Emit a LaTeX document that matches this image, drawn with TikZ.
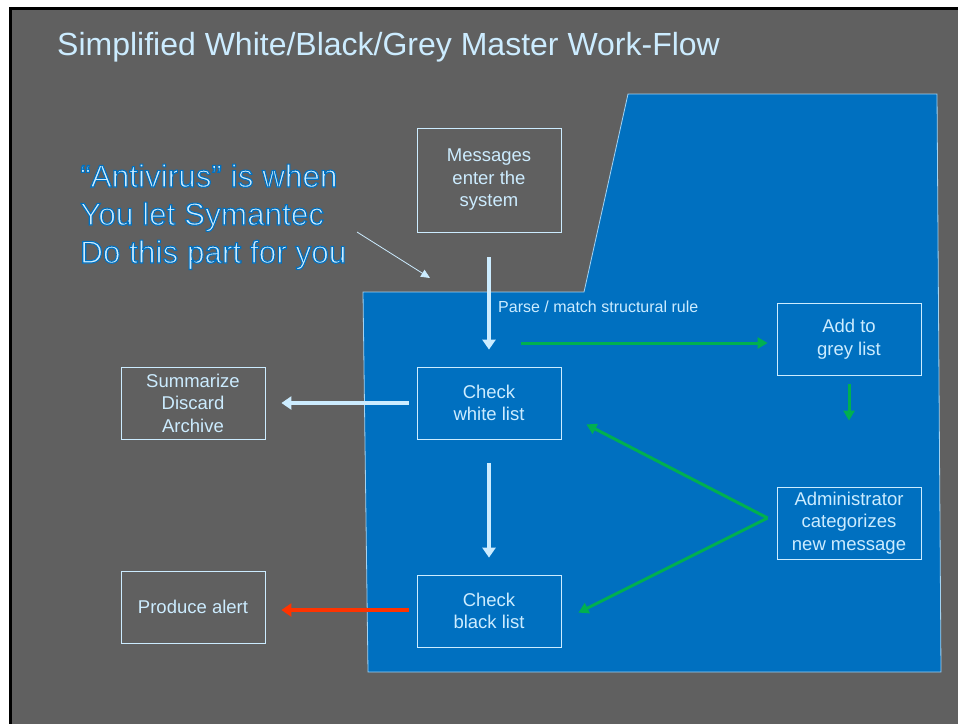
\documentclass[tikz,border=0pt]{standalone}
\usepackage{fontspec}
\setmainfont{Liberation Sans}
\usetikzlibrary{arrows.meta,calc}
\definecolor{slate}{HTML}{606060}
\definecolor{panelblue}{HTML}{0070C0}
\definecolor{paleblue}{HTML}{CCECFF}
\definecolor{okgreen}{HTML}{00B050}
\definecolor{alertred}{HTML}{FF3300}
\newcommand{\outlinedtext}[1]{\special{pdf:literal direct 0 0.439 0.753 RG 1.1 w 2 Tr}#1\special{pdf:literal direct 0 Tr}}
\tikzset{
  box/.style={draw=paleblue, line width=0.8pt, minimum width=144pt, minimum height=72pt,
    align=center, text=paleblue, font=\fontsize{18.5}{22.5}\selectfont, inner sep=2pt},
  flow/.style={draw=paleblue, line width=4pt, -{Triangle[width=13pt,length=10pt]}},
  admin/.style={draw=okgreen, line width=3pt, -{Triangle[width=11pt,length=10pt]}},
  alert/.style={draw=alertred, line width=4pt, -{Triangle[width=13pt,length=10pt]}},
  pointer/.style={draw=paleblue, line width=0.8pt, -{Triangle[width=8pt,length=9pt]}}
}
\begin{document}
\begin{tikzpicture}[x=1pt,y=-1pt]
  % page and frame
  \useasboundingbox (0,0) rectangle (958,724);
  \fill[white] (0,0) rectangle (958,724);
  \fill[black] (9,7) rectangle (958,724);
  \fill[slate] (12,10) rectangle (958,724);

  % blue panel of the automated part
  \draw[fill=panelblue, draw=paleblue!80!panelblue, line width=0.8pt]
    (363,292) -- (584,292) -- (628,94) -- (937,94) -- (941,672) -- (368,672) -- cycle;

  % title
  \node[anchor=base west, inner sep=0pt, text=paleblue, font=\fontsize{32}{38}\selectfont]
    (title) at (57,55) {Simplified White/Black/Grey Master Work-Flow};

  % side note (anchored on the baseline of its last line)
  \node[anchor=base west, inner sep=0pt, align=left, text=paleblue,
        font=\fontsize{31.5}{38}\selectfont] (note) at (80,263)
    {\outlinedtext{“Antivirus” is when}\\\outlinedtext{You let Symantec}\\\outlinedtext{Do this part for you}};

  % process boxes
  \node[box, minimum height=104pt] (msg) at (489,180) {Messages\\enter the\\system};
  \node[box] (white) at (489,403) {Check\\white list};
  \node[box] (black) at (489,611) {Check\\black list};
  \node[box] (summ) at (193,403) {Summarize\\Discard\\Archive};
  \node[box] (prod) at (193,607) {Produce alert};
  \node[box] (grey) at (849,339) {Add to\\grey list};
  \node[box] (adm) at (849,523) {Administrator\\categorizes\\new message};

  % label of the parse step
  \node[anchor=base west, inner sep=0pt, text=paleblue, font=\fontsize{16}{19}\selectfont]
    (parse) at (498,312) {Parse / match structural rule};

  % connectors
  \draw[flow, shorten <=25pt, shorten >=17pt] (msg.south) -- (white.north);
  \draw[flow, shorten <=8pt, shorten >=16pt] (white.west) -- (summ.east);
  \draw[flow, shorten <=24pt, shorten >=17pt] (white.south) -- (black.north);
  \draw[alert, shorten <=8pt, shorten >=16pt] (black.west |- 0,610) -- (prod.east |- 0,610);

  \coordinate (fork) at (521,343);
  \draw[admin, shorten >=9pt] (fork) -- (fork -| grey.west);
  \draw[admin, shorten <=9pt, shorten >=66pt] (grey.south) -- (adm.north);
  \coordinate (admout) at ($(adm.west)+(-9,-5)$);
  \draw[admin] (admout) -- ($(white.south east)+(25,-15)$);
  \draw[admin] (admout) -- ($(black.north east)+(17,38)$);

  % pointer from the note into the panel
  \coordinate (ptr) at (357,232);
  \draw[pointer] (ptr) -- (430,278);
\end{tikzpicture}
\end{document}
